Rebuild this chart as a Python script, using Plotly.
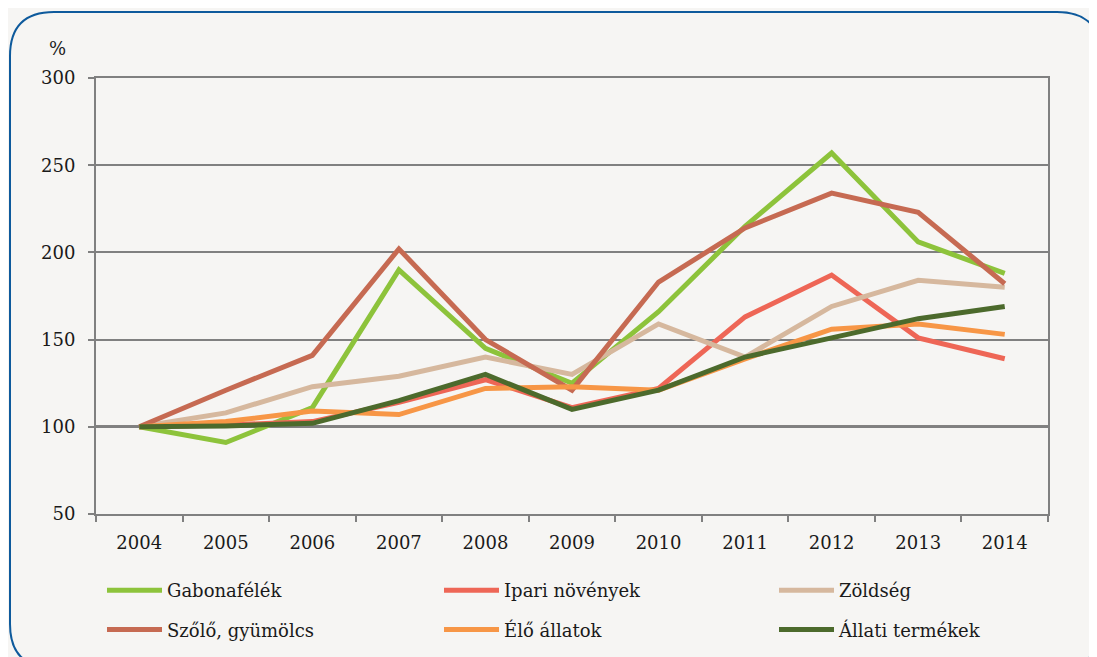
import plotly.graph_objects as go

years = ["2004", "2005", "2006", "2007", "2008", "2009", "2010", "2011", "2012", "2013", "2014"]
gabona = [100, 91, 111, 190, 145, 125, 166, 215, 257, 206, 188]
ipari = [100, 101, 103, 114, 127, 111, 122, 163, 187, 151, 139]
zoldseg = [100, 108, 123, 129, 140, 130, 159, 140, 169, 184, 180]
szolo = [100, 121, 141, 202, 150, 121, 183, 214, 234, 223, 182]
elo = [100, 103, 109, 107, 122, 123, 121, 139, 156, 159, 153]
allati = [100, 100.5, 102, 115, 130, 110, 121, 140, 151, 162, 169]

series = [
    ("Gabonafélék", gabona, "#8DC33B", "legend"),
    ("Ipari növények", ipari, "#EE6656", "legend2"),
    ("Zöldség", zoldseg, "#D6B89E", "legend3"),
    ("Szőlő, gyümölcs", szolo, "#C66A52", "legend"),
    ("Élő állatok", elo, "#F79646", "legend2"),
    ("Állati termékek", allati, "#4C6A2C", "legend3"),
]

W, H = 1097, 657
OFF = 8  # page body margin
L, R, T, B = 96 - OFF, 1048 - OFF, 78 - OFF, 514 - OFF
BG = "#F6F5F3"
FONT = "DejaVu Serif"
TXT = "#1a1a1a"


def px_x(p):
    return (p - OFF - L) / (R - L)


def px_y(p):
    return (B - (p - OFF)) / (B - T)


fig = go.Figure()
for name, vals, color, lg in series:
    fig.add_trace(go.Scatter(
        x=years, y=vals, name=name, mode="lines",
        line=dict(color=color, width=5),
        legend=lg, legendgroup=name,
    ))

# rounded frame (reference pixel coords)
x0, x1, y0, y1, r = 10, 1101, 12, 668, 44
path = (
    f"M {px_x(x0 + r)},{px_y(y0)} L {px_x(x1 - r)},{px_y(y0)} "
    f"Q {px_x(x1)},{px_y(y0)} {px_x(x1)},{px_y(y0 + r)} "
    f"L {px_x(x1)},{px_y(y1 - r)} "
    f"Q {px_x(x1)},{px_y(y1)} {px_x(x1 - r)},{px_y(y1)} "
    f"L {px_x(x0 + r)},{px_y(y1)} "
    f"Q {px_x(x0)},{px_y(y1)} {px_x(x0)},{px_y(y1 - r)} "
    f"L {px_x(x0)},{px_y(y0 + r)} "
    f"Q {px_x(x0)},{px_y(y0)} {px_x(x0 + r)},{px_y(y0)} Z"
)
fig.add_shape(type="path", path=path, xref="paper", yref="paper",
              line=dict(color="#0E5A9C", width=2), layer="below")

# baseline at 100 (above grid, below series)
fig.add_shape(type="line", xref="paper", yref="y", x0=0, x1=1, y0=100, y1=100,
              line=dict(color="#111111", width=2.5), layer="between")

fig.add_annotation(text="%", x=px_x(57), y=px_y(48), xref="paper", yref="paper",
                   xanchor="center", yanchor="middle",
                   showarrow=False, font=dict(family=FONT, size=18, color=TXT))

legend_common = dict(
    orientation="v", xanchor="left", yanchor="top",
    font=dict(family=FONT, size=18, color=TXT),
    bgcolor="rgba(0,0,0,0)", itemwidth=55, tracegroupgap=13, traceorder="grouped",
)

fig.update_layout(
    width=W, height=H,
    margin=dict(l=L, r=W - R, t=T, b=H - B, autoexpand=False),
    paper_bgcolor=BG, plot_bgcolor=BG,
    font=dict(family=FONT, size=18, color=TXT),
    legend=dict(x=px_x(102), y=px_y(572), **legend_common),
    legend2=dict(x=px_x(439), y=px_y(572), **legend_common),
    legend3=dict(x=px_x(774), y=px_y(572), **legend_common),
    xaxis=dict(
        type="category", showgrid=False, showline=True, linecolor="#808080", linewidth=2,
        mirror=True, ticks="outside", tickson="boundaries", ticklen=6, tickwidth=2,
        tickcolor="#808080", tickfont=dict(family=FONT, size=18, color=TXT),
        range=[-0.5, 10.5], ticklabelstandoff=11,
    ),
    yaxis=dict(
        range=[50, 300], tickvals=[50, 100, 150, 200, 250, 300],
        showgrid=True, gridcolor="#808080", gridwidth=2,
        showline=True, linecolor="#808080", linewidth=2, mirror=True,
        ticks="outside", ticklen=6, tickwidth=2, tickcolor="#808080",
        tickfont=dict(family=FONT, size=18, color=TXT), zeroline=False,
        ticklabelstandoff=9,
    ),
)

fig.write_html("out.html")
